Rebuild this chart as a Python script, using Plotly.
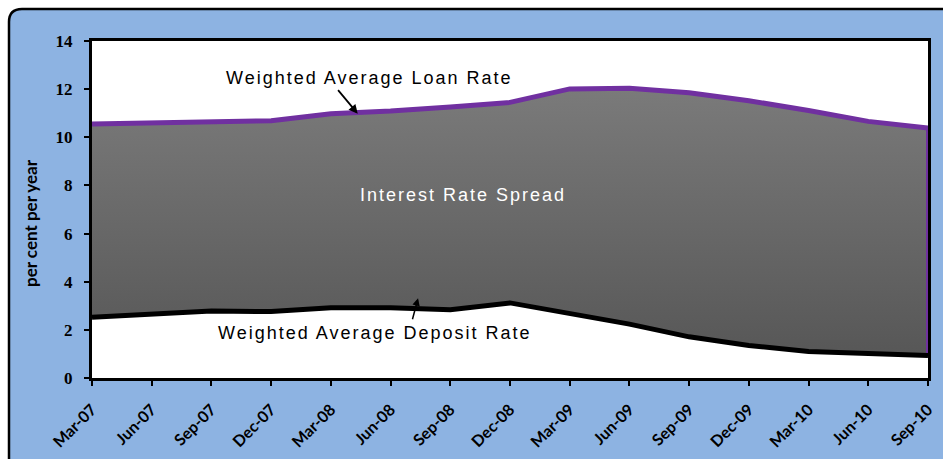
import plotly.graph_objects as go

categories = ["Mar-07", "Jun-07", "Sep-07", "Dec-07", "Mar-08", "Jun-08", "Sep-08", "Dec-08",
              "Mar-09", "Jun-09", "Sep-09", "Dec-09", "Mar-10", "Jun-10", "Sep-10"]
loan_rate = [10.55, 10.58, 10.62, 10.69, 10.98, 11.09, 11.26, 11.45,
             12.01, 12.04, 11.85, 11.52, 11.11, 10.66, 10.38]
deposit_rate = [2.52, 2.66, 2.78, 2.76, 2.92, 2.92, 2.84, 3.12,
                2.66, 2.24, 1.71, 1.35, 1.10, 1.00, 0.93]
y_ticks = [0, 2, 4, 6, 8, 10, 12, 14]

x_idx = list(range(len(categories)))

W, H = 943, 459
L, R, T, B = 92, 15, 41, 81
pw, ph = W - L - R, H - T - B

def px2paper(px, py):
    return (px - L) / pw, (H - B - py) / ph

fig = go.Figure()

# spread area (closed polygon between the two series)
poly_x = x_idx + x_idx[::-1]
poly_y = loan_rate + deposit_rate[::-1]
fig.add_trace(go.Scatter(
    x=poly_x, y=poly_y, mode="lines", fill="toself",
    line=dict(color="#7030A0", width=1.5),
    fillgradient=dict(type="vertical", start=0, stop=12,
                      colorscale=[[0, "#545454"], [1, "#7a7a7a"]]),
    hoverinfo="skip", showlegend=False))
# right edge of the area
fig.add_trace(go.Scatter(
    x=[x_idx[-1], x_idx[-1]], y=[loan_rate[-1], deposit_rate[-1]], mode="lines",
    line=dict(color="#7030A0", width=4), hoverinfo="skip", showlegend=False))
fig.add_trace(go.Scatter(
    x=x_idx, y=loan_rate, mode="lines", name="Weighted Average Loan Rate",
    line=dict(color="#7030A0", width=5), showlegend=False))
fig.add_trace(go.Scatter(
    x=x_idx, y=deposit_rate, mode="lines", name="Weighted Average Deposit Rate",
    line=dict(color="#000000", width=5), showlegend=False))

# background rounded frame
x0, y0 = px2paper(9, 9)
x1, y1 = px2paper(W + 3, H + 3)
r = 13
xr, _ = px2paper(9 + r, 9)
_, yr = px2paper(9, 9 + r)
path = (f"M {x0},{y1} L {x0},{yr} Q {x0},{y0} {xr},{y0} L {x1},{y0} L {x1},{y1} Z")
fig.add_shape(type="path", path=path, xref="paper", yref="paper",
              fillcolor="#8DB3E2", line=dict(color="#000000", width=2.5), layer="below")
# white plot area
fig.add_shape(type="rect", x0=0, x1=1, y0=0, y1=1, xref="paper", yref="paper",
              fillcolor="#ffffff", line=dict(width=0), layer="below")

ann_font = dict(family="Liberation Sans, Arial, sans-serif", size=18, color="#000000")
ls = "letter-spacing:2px"
fig.add_annotation(x=4.64, y=12.48, text=f'<span style="{ls}">Weighted Average Loan Rate</span>',
                   showarrow=False, font=ann_font)
fig.add_annotation(x=6.22, y=7.6, text=f'<span style="{ls}">Interest Rate Spread</span>',
                   showarrow=False, font=dict(ann_font, color="#ffffff"))
fig.add_annotation(x=4.74, y=1.88, text=f'<span style="{ls}">Weighted Average Deposit Rate</span>',
                   showarrow=False, font=ann_font)
# arrows
fig.add_annotation(x=4.45, y=10.98, ax=4.10, ay=12.02, axref="x", ayref="y", text="",
                   showarrow=True, arrowhead=2, arrowsize=1, arrowwidth=1.8, arrowcolor="#000000")
fig.add_annotation(x=5.46, y=3.31, ax=5.36, ay=2.38, axref="x", ayref="y", text="",
                   showarrow=True, arrowhead=2, arrowsize=1, arrowwidth=1.5, arrowcolor="#000000")

# y-axis title placed as rotated text
tx, ty = px2paper(30, 223)
fig.add_annotation(x=tx, y=ty, xref="paper", yref="paper", text="per cent per year",
                   textangle=-90, showarrow=False, xanchor="center", yanchor="middle",
                   font=dict(family="Lato, Noto Sans, sans-serif", size=17, color="#000000", weight="bold"))

fig.update_layout(
    width=W, height=H,
    margin=dict(l=L, r=R, t=T, b=B, pad=0, autoexpand=False),
    paper_bgcolor="#ffffff", plot_bgcolor="#ffffff",
    showlegend=False,
    xaxis=dict(range=[0, 14], tickmode="array", tickvals=x_idx, ticktext=categories,
               tickangle=-45, showgrid=False, zeroline=False, automargin=False,
               showline=True, linecolor="#000000", linewidth=3, mirror=True,
               ticks="outside", ticklen=5, tickwidth=2, tickcolor="#000000",
               ticklabelstandoff=8,
               tickfont=dict(family="Lato, Noto Sans, sans-serif", size=16, color="#000000", weight="bold")),
    yaxis=dict(range=[0, 14], tickmode="array", tickvals=y_ticks,
               showgrid=False, zeroline=False, automargin=False,
               showline=True, linecolor="#000000", linewidth=3, mirror=True,
               ticks="outside", ticklen=5, tickwidth=2, tickcolor="#000000",
               ticklabelstandoff=8,
               tickfont=dict(family="Liberation Serif, Times New Roman, serif", size=17, color="#000000", weight="bold")),
)

fig.write_html("out.html", config={"displayModeBar": False},
               post_script="document.body.style.margin='0';document.body.style.overflow='hidden';")
